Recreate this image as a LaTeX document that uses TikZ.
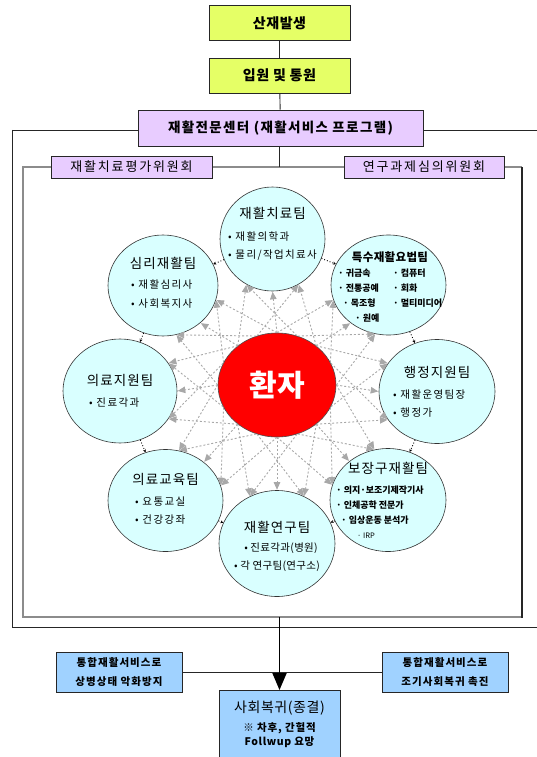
\documentclass[tikz,border=0pt]{standalone}
\usepackage{fontspec}
\setmainfont{Noto Sans CJK KR}
\usetikzlibrary{shapes.geometric,arrows.meta,calc}
\definecolor{limeg}{HTML}{E5FF66}
\definecolor{lav}{HTML}{E8CCFF}
\definecolor{cyanl}{HTML}{D9FFFF}
\definecolor{blueb}{HTML}{A0D2FF}
\definecolor{webgray}{HTML}{A8A8A8}
\newcommand{\ls}[1]{\addfontfeature{LetterSpace=#1}}
\begin{document}
\begin{tikzpicture}[x=1pt,y=-1pt,
  boxs/.style={draw=black!85, line width=0.8pt, inner sep=0pt, align=center},
  limebox/.style={boxs, fill=limeg, minimum width=141pt, minimum height=35pt, font=\fontsize{14}{16}\selectfont\bfseries\ls{4}},
  lavbox/.style={boxs, fill=lav},
  bluebox/.style={boxs, fill=blueb},
  team/.style={ellipse, draw=black!80, line width=0.6pt, fill=cyanl, inner sep=0pt},
  ttl/.style={inner sep=0pt, font=\fontsize{13.5}{15}\selectfont\ls{8}},
  itm/.style={inner sep=0pt, anchor=west, font=\fontsize{10.5}{12}\selectfont\ls{13}},
  sitm/.style={inner sep=0pt, anchor=west, font=\fontsize{9}{10}\selectfont\bfseries},
  web/.style={draw=webgray, line width=0.9pt, dash pattern=on 2pt off 2pt, -{Triangle[length=7.5pt,width=6.5pt,fill=webgray]}, shorten >=0.5pt},
  ringdot/.style={draw=black, line width=0.9pt, dotted, -{Stealth[length=3pt,width=3pt]}},
  conn/.style={draw=black!85, line width=0.9pt}]
\useasboundingbox (0,0) rectangle (536,757);
\fill[white] (0,0) rectangle (536,757);

% frames
\draw[black!85, line width=0.9pt] (12.7,130) -- (545,130) (12.7,130) -- (12.7,627.5) -- (545,627.5);
\draw[black!45, line width=1.3pt] (522,167) -- (23,167) -- (23,617) -- (522,617);
\draw[black!85, line width=1.1pt] (522,167) -- (522,617.6);

% top boxes
\node[limebox] (b1) at (279.5,23) {산재발생};
\node[limebox] (b2) at (279.5,75.5) {입원 및 통원};
\node[lavbox, minimum width=285pt, minimum height=36pt, font=\fontsize{13.5}{15}\selectfont\bfseries\ls{10}] (b3) at (280.5,128) {재활전문센터 (재활서비스 프로그램)};
\coordinate (itop) at (279.5,167);
\draw[conn] (b1) -- (b2);
\draw[conn] (b2) -- (b3);
\draw[conn] (b3.south -| itop) -- (itop);
\node[lavbox, minimum width=161pt, minimum height=22pt, font=\fontsize{13}{15}\selectfont\ls{14}] (k1) at (131.5,167) {재활치료평가위원회};
\node[lavbox, minimum width=160pt, minimum height=22pt, font=\fontsize{13}{15}\selectfont\ls{14}] (k2) at (424,167) {연구과제심의위원회};

% team circles
\node[team, minimum width=105pt, minimum height=104pt] (c1) at (272.5,239) {};
\node[team, minimum width=115pt, minimum height=100pt] (c2) at (388.5,285) {};
\node[team, minimum width=116pt, minimum height=104pt] (c3) at (437,391.5) {};
\node[team, minimum width=116pt, minimum height=103pt] (c4) at (388,500) {};
\node[team, minimum width=116pt, minimum height=106pt] (c5) at (277,543.5) {};
\node[team, minimum width=115pt, minimum height=102pt] (c6) at (165.5,500.5) {};
\node[team, minimum width=114pt, minimum height=104pt] (c7) at (120,391) {};
\node[team, minimum width=110pt, minimum height=101pt] (c8) at (163,285.5) {};

% patient
\node[ellipse, draw=black!70, line width=0.6pt, fill=red, minimum width=118pt, minimum height=104pt, inner sep=0pt, text=white, font=\fontsize{30}{32}\selectfont\bfseries] (pat) at (277,385) {환자};

% web of grey arrows
\foreach \i/\a in {1/90,2/45,3/0,4/-45,5/-90,6/-135,7/180,8/135} {
  \pgfmathtruncatemacro\bb{\a+180}
  \pgfmathtruncatemacro\bl{\a+180-30}
  \pgfmathtruncatemacro\br{\a+180+30}
  \pgfmathtruncatemacro\al{\a+45}
  \pgfmathtruncatemacro\ar{\a-45}
  \pgfmathtruncatemacro\cl{\a+22}
  \pgfmathtruncatemacro\cr{\a-22}
  \draw[web] (pat.\a) -- (c\i.\bb);
  \draw[web] (pat.\al) -- (c\i.\bl);
  \draw[web] (pat.\ar) -- (c\i.\br);
  \draw[web] (pat.\cl) -- (c\i.\br);
  \draw[web] (pat.\cr) -- (c\i.\bl);
}

% dotted ring connectors
\draw[ringdot] (c1) -- (c8);
\draw[ringdot] (c1) -- (c2);
\draw[ringdot] (c2) -- (c3);
\draw[ringdot] (c3) -- (c4);
\draw[ringdot] (c4) -- (c5);
\draw[ringdot] (c8) -- (c7);
\draw[ringdot] (c7) -- (c6);
\draw[ringdot] (c6) -- (c5);

% texts c1
\node[ttl] (t1) at (272.5,213) {재활치료팀};
\node[itm] (t1a) at (228,237) {• 재활의학과};
\node[itm] (t1b) at (228,255) {• 물리/작업치료사};
% c8
\node[ttl] (t8) at (163,263) {심리재활팀};
\node[itm] (t8a) at (131,285) {• 재활심리사};
\node[itm] (t8b) at (131,304) {• 사회복지사};
% c2
\node[inner sep=0pt, font=\fontsize{11.5}{13}\selectfont\bfseries\ls{3}] (t2) at (390,257) {특수재활요법팀};
\node[sitm] (t2a) at (338,273) {· 귀금속};
\node[sitm] (t2b) at (393,273) {· 컴퓨터};
\node[sitm] (t2c) at (338,288) {· 전통공예};
\node[sitm] (t2d) at (393,288) {· 회화};
\node[sitm] (t2e) at (343,303) {· 목조형};
\node[sitm] (t2f) at (393,303) {· 멀티미디어};
\node[sitm] (t2g) at (355,318) {· 원예};
% c3
\node[ttl] (t3) at (437,372) {행정지원팀};
\node[itm] (t3a) at (393,395) {• 재활운영팀장};
\node[itm] (t3b) at (393,413) {• 행정가};
% c4
\node[ttl] (t4) at (388,468) {보장구재활팀};
\node[sitm] (t4a) at (336,490) {· 의지·보조기제작기사};
\node[sitm] (t4b) at (336,505) {· 인체공학 전문가};
\node[sitm] (t4c) at (341,520) {· 임상운동 분석가};
\node[sitm, font=\fontsize{7.5}{9}\selectfont] (t4d) at (357,536) {· IRP};
% c5
\node[ttl] (t5) at (277,527) {재활연구팀};
\node[inner sep=0pt, font=\fontsize{10.5}{12}\selectfont\ls{3}] (t5a) at (281,548) {• 진료각과(병원)};
\node[inner sep=0pt, font=\fontsize{10.5}{12}\selectfont\ls{3}] (t5b) at (277,566) {• 각 연구팀(연구소)};
% c6
\node[ttl] (t6) at (165.5,479) {의료교육팀};
\node[itm] (t6a) at (135,502) {• 요통교실};
\node[itm] (t6b) at (135,520) {• 건강강좌};
% c7
\node[ttl] (t7) at (120,380) {의료지원팀};
\node[itm] (t7a) at (89,403) {• 진료각과};

% bottom part
\coordinate (ibot) at (279.5,617);
\node[bluebox, minimum width=126pt, minimum height=40pt, font=\fontsize{10.5}{18.5}\selectfont\bfseries\ls{10}] (sl) at (119,672) {통합재활서비스로\\상병상태 악화방지};
\node[bluebox, minimum width=126pt, minimum height=40pt, font=\fontsize{10.5}{18.5}\selectfont\bfseries\ls{10}] (sr) at (445,672) {통합재활서비스로\\조기사회복귀 촉진};
\draw[conn] (sl.east) -- (sr.west);
\node[bluebox, minimum width=121pt, minimum height=80pt, anchor=north] (fin) at (279.5,690) {};
\node[inner sep=0pt, font=\fontsize{14}{16}\selectfont\ls{4}] (f1) at (279.5,708) {사회복귀(종결)};
\node[inner sep=0pt, font=\fontsize{10.5}{12}\selectfont\bfseries\ls{8}] (f2) at (279.5,728) {※ 차후, 간헐적};
\node[inner sep=0pt, font=\fontsize{10.5}{12}\selectfont\bfseries\ls{6}] (f3) at (279.5,742) {Follwup 요망};
\draw[black, line width=1.8pt, -{Triangle[length=17pt,width=14pt]}] (ibot) -- (fin.north);
\end{tikzpicture}
\end{document}
